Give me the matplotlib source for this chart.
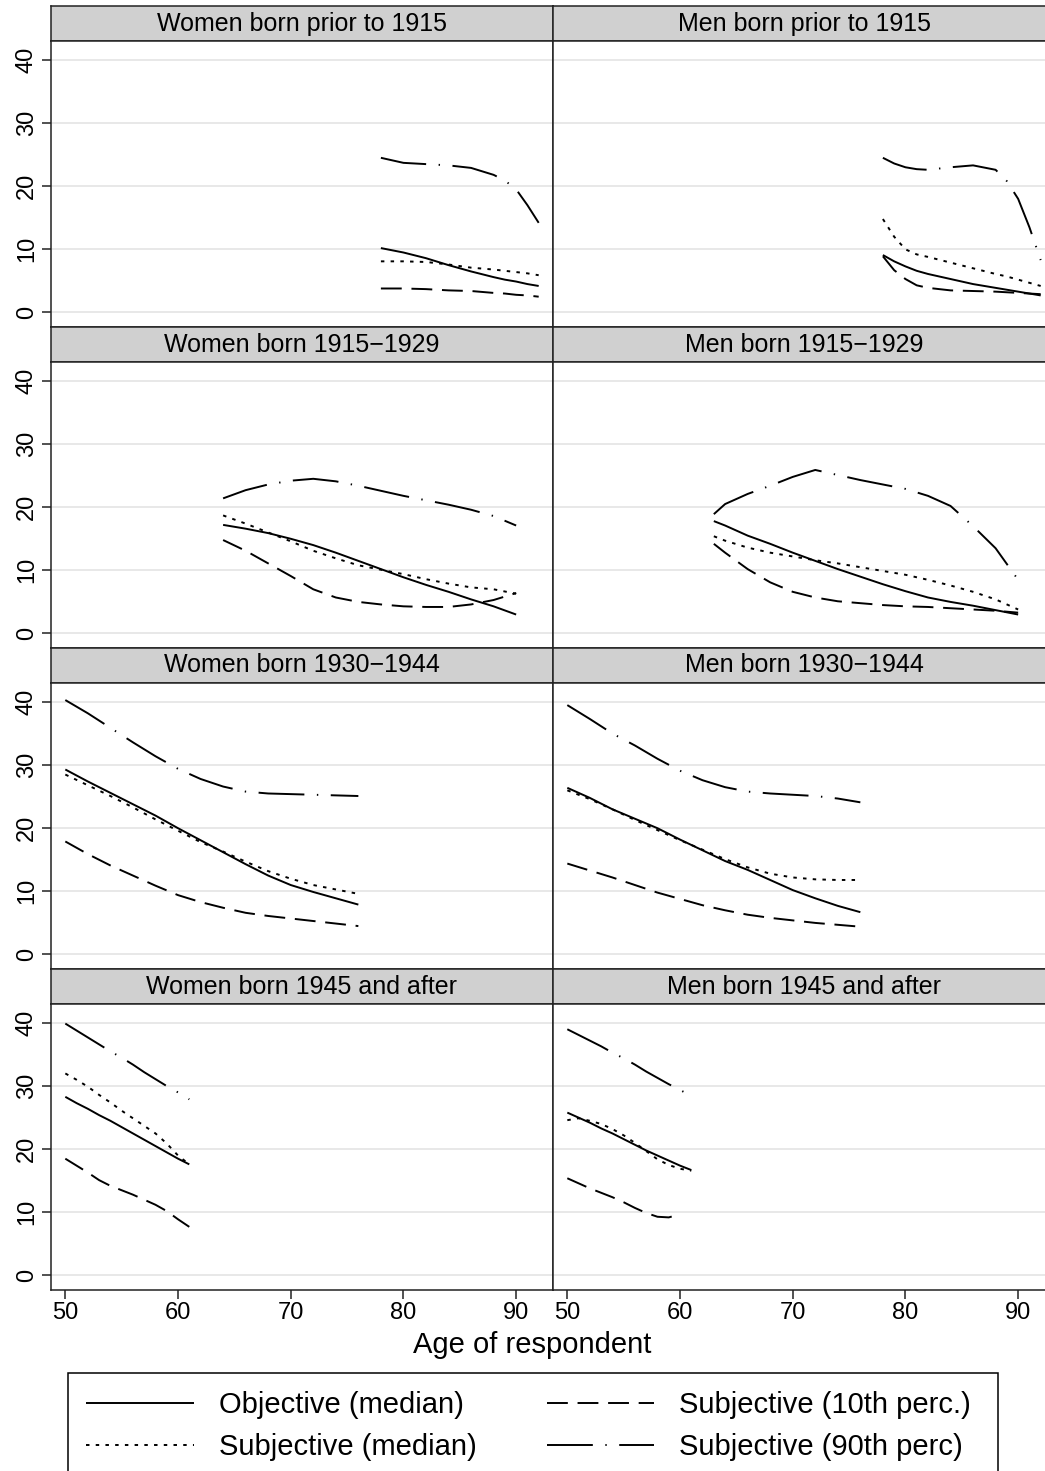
import matplotlib.pyplot as plt
from matplotlib.patches import Rectangle
import numpy as np

plt.rcParams['font.family'] = ['Liberation Sans', 'DejaVu Sans']
plt.rcParams['lines.scale_dashes'] = False
plt.rcParams['xtick.labelsize'] = 17
plt.rcParams['ytick.labelsize'] = 17

# ---- data (age, percent) ----
titles = ['Women born prior to 1915', 'Men born prior to 1915',
          'Women born 1915\u22121929', 'Men born 1915\u22121929',
          'Women born 1930\u22121944', 'Men born 1930\u22121944',
          'Women born 1945 and after', 'Men born 1945 and after']
series_labels = ['Objective (median)', 'Subjective (median)',
                 'Subjective (10th perc.)', 'Subjective (90th perc)']

# women born prior to 1915
w1_age = [78, 80, 82, 84, 86, 88, 89, 90, 91, 92]
w1_obj = [10.2, 9.5, 8.6, 7.5, 6.5, 5.6, 5.2, 4.9, 4.5, 4.2]
w1_subj = [8.1, 8.1, 8.0, 7.6, 7.1, 6.8, 6.6, 6.4, 6.2, 5.9]
w1_p10 = [3.8, 3.8, 3.7, 3.5, 3.4, 3.1, 3.0, 2.8, 2.7, 2.5]
w1_p90 = [24.5, 23.7, 23.5, 23.3, 22.9, 21.8, 20.9, 19.5, 17.0, 14.2]

# men born prior to 1915
m1_age = [78, 79, 80, 81, 82, 84, 86, 88, 89, 90, 91, 92]
m1_obj = [9.1, 8.1, 7.3, 6.6, 6.1, 5.3, 4.5, 3.9, 3.6, 3.3, 3.0, 2.7]
m1_subj = [14.8, 12.0, 10.0, 9.2, 8.8, 7.9, 7.0, 6.1, 5.7, 5.2, 4.7, 4.2]
m1_p10 = [8.9, 6.7, 5.3, 4.3, 3.9, 3.5, 3.4, 3.3, 3.2, 3.1, 3.0, 2.9]
m1_p90 = [24.5, 23.6, 23.0, 22.7, 22.6, 23.0, 23.3, 22.6, 20.8, 18.0, 13.5, 8.3]

# women born 1915-1929
w2_age = [64, 66, 68, 70, 72, 74, 76, 78, 80, 82, 84, 86, 88, 90]
w2_obj = [17.2, 16.6, 15.9, 15.0, 14.0, 12.8, 11.5, 10.2, 8.9, 7.7, 6.6, 5.4, 4.3, 3.0]
w2_subj = [18.7, 17.4, 16.0, 14.6, 13.1, 11.9, 10.8, 10.1, 9.4, 8.6, 7.9, 7.3, 7.0, 6.3]
w2_p10 = [14.8, 13.1, 11.1, 9.1, 7.0, 5.7, 5.0, 4.6, 4.3, 4.2, 4.2, 4.6, 5.3, 6.4]
w2_p90 = [21.4, 22.7, 23.6, 24.2, 24.5, 24.1, 23.4, 22.6, 21.8, 21.1, 20.4, 19.6, 18.6, 17.1]

# men born 1915-1929
m2_age = [63, 64, 66, 68, 70, 72, 74, 76, 78, 80, 82, 84, 86, 88, 90]
m2_obj = [17.8, 17.1, 15.5, 14.2, 12.8, 11.5, 10.2, 9.0, 7.8, 6.7, 5.7, 5.0, 4.4, 3.7, 3.0]
m2_subj = [15.4, 14.7, 13.6, 12.8, 12.2, 11.6, 11.1, 10.5, 9.9, 9.3, 8.5, 7.6, 6.6, 5.4, 3.8]
m2_p10 = [14.2, 12.8, 10.2, 8.1, 6.6, 5.7, 5.1, 4.8, 4.5, 4.3, 4.2, 4.0, 3.8, 3.6, 3.3]
m2_p90 = [18.9, 20.5, 22.1, 23.4, 24.8, 25.9, 25.1, 24.3, 23.6, 22.9, 21.8, 20.2, 17.0, 13.5, 8.5]

# women born 1930-1944
w3_age = [50, 52, 54, 56, 58, 60, 62, 64, 66, 68, 70, 72, 74, 76]
w3_obj = [29.3, 27.4, 25.6, 23.8, 22.0, 20.0, 18.1, 16.2, 14.3, 12.5, 11.0, 9.9, 8.9, 7.9]
w3_subj = [28.5, 26.8, 25.1, 23.3, 21.4, 19.6, 17.8, 16.3, 14.7, 13.2, 12.0, 11.0, 10.3, 9.6]
w3_p10 = [17.9, 15.9, 14.1, 12.5, 10.9, 9.4, 8.3, 7.4, 6.6, 6.1, 5.7, 5.3, 4.9, 4.5]
w3_p90 = [40.3, 38.2, 35.9, 33.6, 31.4, 29.4, 27.8, 26.6, 25.8, 25.5, 25.4, 25.3, 25.2, 25.1]

# men born 1930-1944
m3_age = [50, 52, 54, 56, 58, 60, 62, 64, 66, 68, 70, 72, 74, 76]
m3_obj = [26.4, 24.8, 23.0, 21.5, 20.0, 18.2, 16.5, 14.8, 13.4, 11.8, 10.2, 8.9, 7.7, 6.7]
m3_subj = [26.0, 24.6, 23.0, 21.3, 19.7, 18.1, 16.6, 15.1, 13.8, 12.8, 12.2, 11.9, 11.8, 11.8]
m3_p10 = [14.4, 13.3, 12.2, 11.0, 9.8, 8.8, 7.8, 7.0, 6.3, 5.8, 5.4, 5.0, 4.7, 4.4]
m3_p90 = [39.5, 37.3, 35.0, 33.1, 31.0, 29.1, 27.6, 26.5, 25.8, 25.5, 25.3, 25.1, 24.7, 24.1]

# women born 1945 and after
w4_age = [50, 51, 52, 53, 54, 55, 56, 57, 58, 59, 60, 61]
w4_obj = [28.3, 27.3, 26.4, 25.4, 24.5, 23.5, 22.5, 21.5, 20.5, 19.5, 18.5, 17.6]
w4_subj = [32.0, 31.0, 29.9, 28.6, 27.4, 26.1, 24.9, 23.7, 22.5, 20.9, 19.0, 17.6]
w4_p10 = [18.5, 17.4, 16.3, 15.1, 14.2, 13.5, 12.8, 12.0, 11.2, 10.2, 8.9, 7.7]
w4_p90 = [39.9, 38.8, 37.7, 36.6, 35.5, 34.5, 33.4, 32.2, 31.1, 30.0, 29.0, 27.9]

# men born 1945 and after
m4_age = [50, 51, 52, 53, 54, 55, 56, 57, 58, 59, 60, 61]
m4_obj = [25.8, 25.0, 24.2, 23.3, 22.5, 21.6, 20.7, 19.8, 19.0, 18.2, 17.4, 16.7]
m4_subj = [24.6, 24.9, 24.5, 24.0, 23.2, 22.2, 21.0, 19.7, 18.4, 17.5, 16.9, 16.6]
m4_p10 = [15.4, 14.6, 13.8, 13.1, 12.4, 11.6, 10.7, 9.9, 9.3, 9.2, 9.7, np.nan]
m4_p90 = [39.0, 38.1, 37.2, 36.3, 35.3, 34.4, 33.4, 32.3, 31.3, 30.3, 29.4, 28.4]

x_ticks = [50, 60, 70, 80, 90]
y_ticks = [0, 10, 20, 30, 40]

panels = [
    (w1_age, w1_obj, w1_subj, w1_p10, w1_p90),
    (m1_age, m1_obj, m1_subj, m1_p10, m1_p90),
    (w2_age, w2_obj, w2_subj, w2_p10, w2_p90),
    (m2_age, m2_obj, m2_subj, m2_p10, m2_p90),
    (w3_age, w3_obj, w3_subj, w3_p10, w3_p90),
    (m3_age, m3_obj, m3_subj, m3_p10, m3_p90),
    (w4_age, w4_obj, w4_subj, w4_p10, w4_p90),
    (m4_age, m4_obj, m4_subj, m4_p10, m4_p90),
]

styles = ['-', (0, (2.5, 4.5)), (0, (15, 7)), (0, (33, 9, 1, 9))]

# ---- layout (pixels) ----
W, H = 1045, 1471
col_x = [51, 553]
panel_w = 502
row_top = [6, 327, 648, 969]
strip_h = 35
plot_h = 286
dark = '#222222'


def box(x, y, w, h):
    return [x / W, 1 - (y + h) / H, w / W, h / H]


fig = plt.figure(figsize=(W / 100, H / 100), dpi=100)

handles = []
for i, (age, obj, subj, p10, p90) in enumerate(panels):
    r, c = divmod(i, 2)
    x0 = col_x[c]
    # strip with title
    sax = fig.add_axes(box(x0, row_top[r], panel_w, strip_h))
    sax.set_facecolor('#d0d0d0')
    sax.set_xticks([])
    sax.set_yticks([])
    for s in sax.spines.values():
        s.set_color(dark)
        s.set_linewidth(1.1)
    sax.text(0.5, 0.5, titles[i], ha='center', va='center', fontsize=18,
             transform=sax.transAxes)

    ax = fig.add_axes(box(x0, row_top[r] + strip_h, panel_w, plot_h))
    ax.set_xlim(48.73, 93.27)
    ax.set_ylim(-2.3, 43)
    for yv in y_ticks:
        ax.axhline(yv, color='#e8e8e8', lw=1.4, zorder=0)
    lines = []
    for vals, ls in zip([obj, subj, p10, p90], styles):
        ln, = ax.plot(age, vals, color='black', lw=1.4, linestyle=ls,
                      solid_capstyle='butt', dash_capstyle='butt')
        lines.append(ln)
    if i == 0:
        handles = lines
    for s in ax.spines.values():
        s.set_color(dark)
        s.set_linewidth(1.1)
    ax.tick_params(color=dark, length=6.5, width=1.1, labelsize=17)
    if c == 0:
        ax.set_yticks(y_ticks)
        ax.set_yticklabels([str(v) for v in y_ticks], rotation=90, va='center')
        ax.tick_params(axis='y', pad=3)
        for t in ax.get_yticklabels():
            t.set_fontsize(17)
    else:
        ax.set_yticks([])
    if r == 3:
        ax.set_xticks(x_ticks)
        ax.set_xticklabels([str(v) for v in x_ticks])
        ax.tick_params(axis='x', pad=2)
        for t in ax.get_xticklabels():
            t.set_fontsize(17)
    else:
        ax.set_xticks([])

fig.text(532 / W, 1 - 1345 / H, 'Age of respondent', ha='center', va='center',
         fontsize=21)

fig.legend(handles, series_labels, loc='upper left',
           bbox_to_anchor=(68 / W, 1 - 1373 / H), borderaxespad=0,
           ncol=2, fontsize=21, frameon=False,
           handlelength=3.7, handletextpad=0.85, columnspacing=2.4,
           labelspacing=0.47, borderpad=0.62)
# legend box runs past the bottom edge, as in the original
fig.add_artist(Rectangle((68 / W, -0.02), (998 - 68) / W, 0.02 + (H - 1373) / H,
                         transform=fig.transFigure, fill=False,
                         edgecolor='black', lw=1.1))

fig.savefig('out.png', dpi=100)
